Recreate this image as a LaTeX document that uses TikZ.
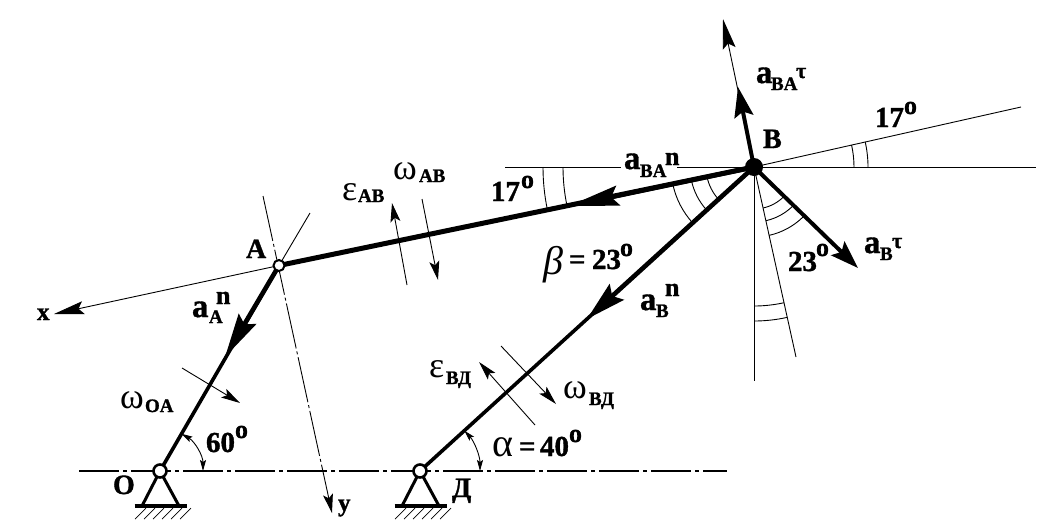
\documentclass[tikz,border=0pt]{standalone}
\usepackage{fontspec}
\setmainfont[BoldFeatures={FakeBold=1.2}]{Liberation Serif}
\usetikzlibrary{arrows.meta}
\tikzset{
  thinl/.style={line width=0.9pt,black},
  link/.style={line width=3.6pt,black},
  rod/.style={line width=5pt,black},
  vec/.style={line width=4.6pt,black},
  headS/.style={-{Stealth[length=19pt,width=10pt,inset=4pt]}},
  headM/.style={-{Stealth[length=30pt,width=13pt,inset=5pt]}},
  headL/.style={-{Stealth[length=44pt,width=20pt,inset=6pt]}},
  headB/.style={-{Stealth[length=30pt,width=19pt,inset=5pt]}},
  twohead/.style={{Stealth[length=11pt,width=6pt,inset=2pt]}-{Stealth[length=11pt,width=6pt,inset=2pt]}},
  lbl/.style={anchor=base west,inner sep=0pt,outer sep=0pt,font=\bfseries\fontsize{24}{24}\selectfont},
  axisline/.style={line width=2pt,dash pattern=on 40pt off 4pt on 4pt off 4pt},
  axisthin/.style={line width=0.9pt,dash pattern=on 46pt off 3pt on 3pt off 3pt},
  pinopen/.style={circle,draw=black,fill=white,inner sep=0pt},
}
\newcommand\sbs[1]{\fontsize{19}{19}\selectfont #1}
\newcommand\sups[1]{\fontsize{26}{26}\selectfont #1}
\newcommand\biga[1]{{\fontsize{33}{33}\selectfont #1}}
\newcommand\grk[1]{{\fontsize{36}{36}\selectfont\mdseries #1}}
\newcommand\dg[1]{{\fontsize{29}{29}\selectfont #1}}
\newcommand\lab[4]{\node[lbl] (#1) at (#2,#3) {#4};}
\newcommand\arcat[4]{\draw[thinl] ([shift={(#1)}]#2:#4) arc[start angle=#2,end angle=#3,radius=#4];}
\newcommand\support[2]{%
  \coordinate (#1l) at (#2-17.5,505);
  \coordinate (#1r) at (#2+18.5,505);
  \coordinate (#1bl) at (#2-25.5,506);
  \coordinate (#1br) at (#2+27,506);
  \draw[line width=3pt] (#1l) -- (#1) -- (#1r);
  \draw[line width=4.5pt] (#1bl) -- (#1br);
  \foreach \d in {0,9,18,27,36,45}{\draw[line width=0.7pt] (#2-25+\d,519) -- (#2-14+\d,508);}
}
\begin{document}
\begin{tikzpicture}[x=1pt,y=-1pt]
\useasboundingbox (0,0) rectangle (1052,528);
\fill[white] (0,0) rectangle (1052,528);
% points
\coordinate (O) at (160,471);
\coordinate (A) at (279,265.5);
\coordinate (B) at (754,167);
\coordinate (D) at (420,471);
% free ends
\coordinate (axL) at (79,471);
\coordinate (axR) at (727,471);
\coordinate (xtip) at (54,314);
\coordinate (ytop) at (263,196);
\coordinate (ytip) at (332,513);
\coordinate (Aext) at (310,213);
\coordinate (hL) at (505,167);
\coordinate (hL2) at (621,167);
\coordinate (hR1) at (677,167);
\coordinate (hR) at (1036,167);
\coordinate (e17) at (1021,107);
\coordinate (perpTop) at (723,19);
\coordinate (perpBot) at (796,357);
\coordinate (vBot) at (754,381);
% thin lines
\draw[axisline] (axL) -- (axR);
\draw[thinl,headM] (A) -- (xtip);
\draw[axisthin,headS] (ytop) -- (ytip);
\draw[thinl] (A) -- (Aext);
\draw[thinl] (hL) -- (hL2);
\draw[thinl] (hR1) -- (hR);
\draw[thinl] (B) -- (e17);
\draw[thinl] (B) -- (perpBot);
\draw[thinl] (B) -- (vBot);
\draw[thinl,headM] (B) -- (perpTop);
% marks
\coordinate (wOs) at (182,368); \coordinate (wOe) at (240,403);
\coordinate (wBs) at (501,346); \coordinate (wBe) at (556,404);
\coordinate (eBs) at (535,425); \coordinate (eBe) at (479,362);
\coordinate (eAs) at (407,285); \coordinate (eAe) at (392,203);
\coordinate (wAs) at (422,199); \coordinate (wAe) at (438,280);
\draw[thinl,headS] (wOs) -- (wOe);
\draw[thinl,headS] (wBs) -- (wBe);
\draw[thinl,headS] (eBs) -- (eBe);
\draw[thinl,headS] (eAs) -- (eAe);
\draw[thinl,headS] (wAs) -- (wAe);
% angle arcs
\arcat{B}{168.3}{137.7}{48}
\arcat{B}{168.3}{137.7}{64}
\arcat{B}{168.3}{137.7}{83}
\arcat{B}{180}{168.3}{191}
\arcat{B}{180}{168.3}{211}
\arcat{B}{0}{-12.7}{100}
\arcat{B}{0}{-12.7}{114}
\arcat{B}{77.5}{45}{42}
\arcat{B}{77.5}{45}{55}
\arcat{B}{77.5}{45}{70}
\arcat{B}{90}{77.5}{139}
\arcat{B}{90}{77.5}{154}
\draw[thinl,twohead] ([shift={(O)}]-59.9:43) arc[start angle=-59.9,end angle=0,radius=43];
\draw[thinl,twohead] ([shift={(D)}]-42.3:60) arc[start angle=-42.3,end angle=0,radius=60];
% links
\draw[link] (O) -- (A);
\draw[link] (D) -- (B);
\draw[rod] (A) -- (B);
% vectors
\coordinate (aAtip) at (225,357);
\coordinate (aBAtip) at (569,206);
\coordinate (aBntip) at (587,319);
\coordinate (aBAttip) at (738,87);
\coordinate (aBttip) at (858,268);
\draw[vec,headL] (A) -- (aAtip);
\draw[vec,-{Stealth[length=50pt,width=20pt,inset=7pt]}] (B) -- (aBAtip);
\draw[vec,-{Stealth[length=40pt,width=21pt,inset=6pt]}] (B) -- (aBntip);
\draw[line width=4pt,headB] (B) -- (aBAttip);
\draw[line width=4pt,-{Stealth[length=28pt,width=19pt,inset=5pt]}] (B) -- (aBttip);
% supports
\support{O}{160}
\support{D}{420}
% pins
\node[pinopen,line width=2.6pt,minimum size=13pt] (pO) at (O) {};
\node[pinopen,line width=2.6pt,minimum size=13pt] (pD) at (D) {};
\node[pinopen,line width=2pt,minimum size=11pt] (pA) at (A) {};
\node[circle,fill=black,inner sep=0pt,minimum size=18pt] (pB) at (B) {};
% labels
\lab{lx}{37}{320}{\fontsize{25}{25}\selectfont x}
\lab{ly}{338}{511}{\fontsize{25}{25}\selectfont y}
\lab{lA}{246}{258}{\fontsize{28}{28}\selectfont A}
\lab{lO}{113}{494}{\fontsize{28}{28}\selectfont O}
\lab{lB}{763}{148}{\fontsize{28}{28}\selectfont B}
\lab{lDd}{452}{497}{\fontsize{28}{28}\selectfont Д}
% a_A^n
\lab{aAa}{192}{317}{\biga{a}}
\lab{aAs}{209}{323}{\sbs{A}}
\lab{aAn}{216}{304}{\sups{n}}
% a_BA^n
\lab{aBAa}{624}{169}{\biga{a}}
\lab{aBAs}{640}{177}{\sbs{BA}}
\lab{aBAn}{665}{165}{\sups{n}}
% a_BA^tau
\lab{aBTa}{756}{83}{\biga{a}}
\lab{aBTs}{771}{90}{\sbs{BA}}
\lab{aBTn}{796}{78}{\fontsize{22}{22}\selectfont τ}
% a_B^tau
\lab{aTa}{864}{253}{\biga{a}}
\lab{aTs}{880}{260}{\sbs{B}}
\lab{aTn}{892}{248}{\fontsize{22}{22}\selectfont τ}
% a_B^n
\lab{aNa}{640}{310}{\biga{a}}
\lab{aNs}{656}{317}{\sbs{B}}
\lab{aNn}{665}{296}{\sups{n}}
% greek
\lab{wO}{120}{408}{\grk{ω}}
\lab{wOs2}{145}{412}{\sbs{OA}}
\lab{eA}{342}{200}{\grk{ε}}
\lab{eAs2}{358}{202}{\sbs{AB}}
\lab{wA}{393}{179}{\grk{ω}}
\lab{wAs2}{419}{182}{\sbs{AB}}
\lab{eB}{429}{377}{\grk{ε}}
\lab{eBs2}{446}{384}{\sbs{ВД}}
\lab{wB}{563}{398}{\grk{ω}}
\lab{wBs2}{589}{405}{\sbs{ВД}}
% degrees
\lab{d60}{206}{452}{\dg{60}}
\lab{d60o}{235}{438}{\sups{o}}
\lab{d17a}{491}{201}{\dg{17}}
\lab{d17ao}{521}{188}{\sups{o}}
\lab{d17b}{875}{127}{\dg{17}}
\lab{d17bo}{904}{114}{\sups{o}}
\lab{d23}{788}{271}{\dg{23}}
\lab{d23o}{816}{256}{\sups{o}}
\lab{beta}{543}{274}{\fontsize{40}{40}\selectfont\mdseries\itshape β}
\lab{beq}{569}{269}{\dg{=}}
\lab{b23}{592}{269}{\dg{23}}
\lab{b23o}{620}{256}{\sups{o}}
\lab{alp}{492}{456}{\fontsize{40}{40}\selectfont\mdseries α}
\lab{aeq}{519}{456}{\dg{=}}
\lab{a40}{540}{456}{\dg{40}}
\lab{a40o}{569}{442}{\sups{o}}
\end{tikzpicture}
\end{document}
